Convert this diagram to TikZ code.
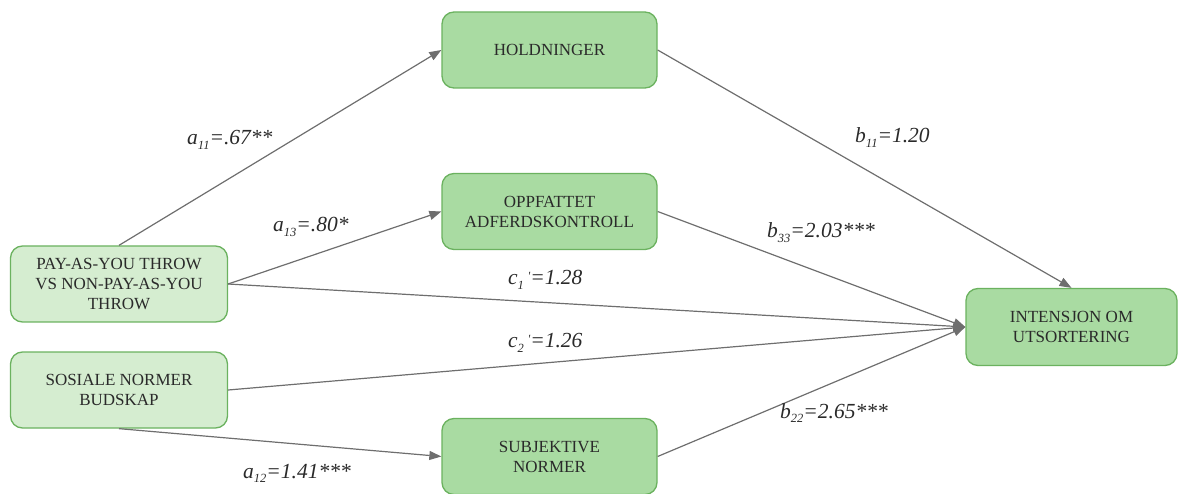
\documentclass[tikz,border=0pt]{standalone}
\usepackage{fontspec}
\setmainfont{Liberation Serif}
\usetikzlibrary{arrows.meta}
\definecolor{boxdark}{HTML}{A9DBA2}
\definecolor{boxlight}{HTML}{D5EDD0}
\definecolor{edgegreen}{HTML}{6BB25F}
\definecolor{linegray}{HTML}{6E6E6E}
\definecolor{textgray}{HTML}{2A2A2A}
\newcommand{\sub}[1]{\raisebox{-0.5ex}{\fontsize{12.5}{12}\selectfont #1}}
\tikzset{
  box/.style={draw=edgegreen, line width=1.3pt, rounded corners=12pt, align=center,
    text=textgray, font=\fontsize{17}{20}\selectfont, inner sep=0pt},
  mainbox/.style={box, fill=boxdark, minimum width=215pt, minimum height=76pt},
  srcbox/.style={box, fill=boxlight, minimum width=217pt, minimum height=76pt},
  path/.style={draw=linegray, line width=1.2pt, -{Triangle[length=12pt,width=9pt]}},
  coef/.style={anchor=base west, inner sep=0pt, text=textgray,
    font=\fontsize{21.5}{22}\selectfont\itshape}
}
\begin{document}
\begin{tikzpicture}[x=1pt,y=-1pt]
\useasboundingbox (0,0) rectangle (1178,494);
% boxes
\node[mainbox] (hold) at (549.5,50) {HOLDNINGER};
\node[mainbox] (opp) at (549.5,211.5) {OPPFATTET\\ADFERDSKONTROLL};
\node[mainbox] (sub) at (549.5,456.5) {SUBJEKTIVE\\NORMER};
\node[srcbox] (pay) at (119,284) {PAY-AS-YOU THROW\\VS NON-PAY-AS-YOU\\THROW};
\node[srcbox] (sos) at (119,390) {SOSIALE NORMER\\BUDSKAP};
\node[mainbox, minimum width=211pt, minimum height=77pt] (int) at (1071.5,327) {INTENSJON OM\\UTSORTERING};
% paths
\draw[path] (pay.north) -- (hold.west);
\draw[path] (pay.east) -- (opp.west);
\draw[path] (pay.east) -- (int.west);
\draw[path] (sos.east) -- (int.west);
\draw[path] (sos.south) -- (sub.west);
\draw[path] (hold.east) -- (int.north);
\draw[path] (opp.east) -- (int.west);
\draw[path] (sub.east) -- (int.west);
% coefficients
\node[coef] (l11) at (187,145) {a\sub{11}=.67**};
\node[coef] (l13) at (273,232) {a\sub{13}=.80*};
\node[coef] (l12) at (243,478) {a\sub{12}=1.41***};
\node[coef] (lb11) at (855,143) {b\sub{11}=1.20};
\node[coef] (lb33) at (767,238) {b\sub{33}=2.03***};
\node[coef] (lb22) at (780,418) {b\sub{22}=2.65***};
\node[coef] (lc1) at (508,285) {c\sub{1}\,\raisebox{0.5ex}{\fontsize{12.5}{12}\selectfont\textquotesingle}=1.28};
\node[coef] (lc2) at (508,348) {c\sub{2}\,\raisebox{0.5ex}{\fontsize{12.5}{12}\selectfont\textquotesingle}=1.26};
\end{tikzpicture}
\end{document}
